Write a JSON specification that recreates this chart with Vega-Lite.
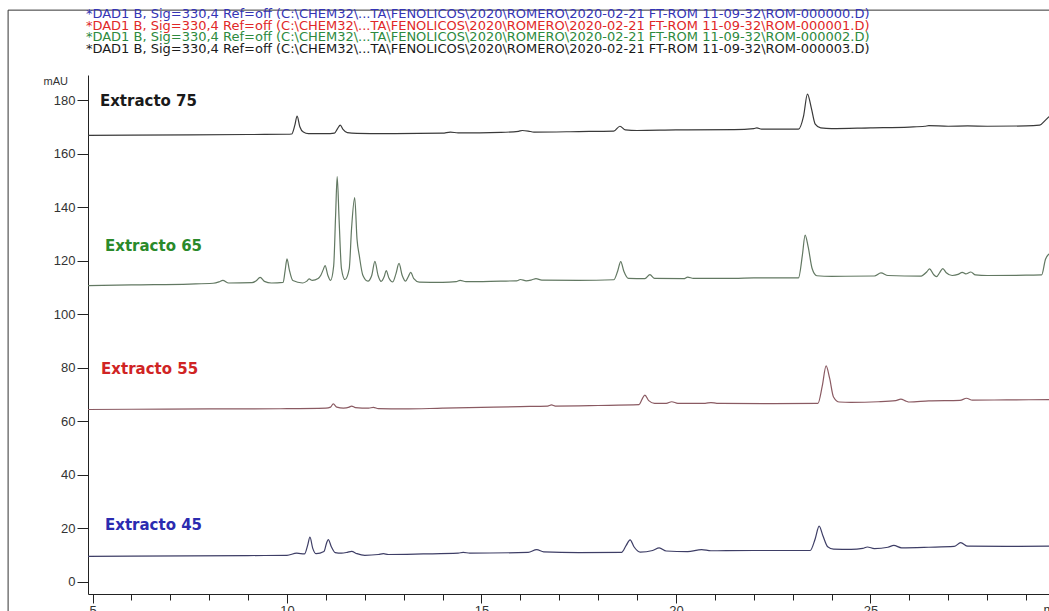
{
  "$schema": "https://vega.github.io/schema/vega-lite/v6.json",
  "width": 961,
  "height": 519,
  "autosize": {"type": "none"},
  "padding": {"left": 88, "top": 75, "right": 0, "bottom": 17},
  "background": "white",
  "config": {"view": {"stroke": null}, "font": "Liberation Sans"},
  "resolve": {"scale": {"color": "independent"}},
  "layer": [
    {
      "data": {"values": [
        {"t": 2.83, "v": -12, "v2": 213.6},
        {"t": 2.83, "t2": 29.6, "v": 213.6}
      ]},
      "mark": {"type": "rule", "color": "#333333", "strokeWidth": 1, "clip": false},
      "encoding": {
        "x": {"field": "t", "type": "quantitative", "scale": {"domain": [4.884, 29.59], "nice": false, "zero": false}},
        "x2": {"field": "t2"},
        "y": {"field": "v", "type": "quantitative", "scale": {"domain": [-4.67, 189.35], "nice": false, "zero": false}},
        "y2": {"field": "v2"}
      }
    },
    {
      "data": {"values": [
        {"s":"Extracto 75","t":4.884,"v":166.8},{"s":"Extracto 75","t":6.0,"v":166.9},{"s":"Extracto 75","t":7.5,"v":167.0},{"s":"Extracto 75","t":9.0,"v":167.1},{"s":"Extracto 75","t":10.0,"v":167.2},{"s":"Extracto 75","t":10.12,"v":167.3},{"s":"Extracto 75","t":10.2,"v":170.5},{"s":"Extracto 75","t":10.26,"v":174.0},{"s":"Extracto 75","t":10.33,"v":170.0},{"s":"Extracto 75","t":10.42,"v":168.0},{"s":"Extracto 75","t":10.55,"v":167.4},{"s":"Extracto 75","t":11.0,"v":167.4},{"s":"Extracto 75","t":11.22,"v":167.6},{"s":"Extracto 75","t":11.3,"v":169.3},{"s":"Extracto 75","t":11.37,"v":170.6},{"s":"Extracto 75","t":11.44,"v":169.0},{"s":"Extracto 75","t":11.55,"v":167.8},{"s":"Extracto 75","t":11.8,"v":167.5},{"s":"Extracto 75","t":12.5,"v":167.4},{"s":"Extracto 75","t":14.0,"v":167.6},{"s":"Extracto 75","t":14.2,"v":168.0},{"s":"Extracto 75","t":14.4,"v":167.7},{"s":"Extracto 75","t":15.5,"v":167.9},{"s":"Extracto 75","t":15.95,"v":168.3},{"s":"Extracto 75","t":16.05,"v":168.6},{"s":"Extracto 75","t":16.2,"v":168.4},{"s":"Extracto 75","t":16.35,"v":168.0},{"s":"Extracto 75","t":17.5,"v":168.2},{"s":"Extracto 75","t":18.4,"v":168.4},{"s":"Extracto 75","t":18.56,"v":170.2},{"s":"Extracto 75","t":18.7,"v":168.8},{"s":"Extracto 75","t":19.0,"v":168.6},{"s":"Extracto 75","t":20.0,"v":168.8},{"s":"Extracto 75","t":21.5,"v":168.9},{"s":"Extracto 75","t":22.0,"v":169.3},{"s":"Extracto 75","t":22.08,"v":169.6},{"s":"Extracto 75","t":22.2,"v":169.1},{"s":"Extracto 75","t":23.15,"v":169.1},{"s":"Extracto 75","t":23.28,"v":174.0},{"s":"Extracto 75","t":23.38,"v":182.2},{"s":"Extracto 75","t":23.48,"v":177.0},{"s":"Extracto 75","t":23.58,"v":171.0},{"s":"Extracto 75","t":23.72,"v":169.6},{"s":"Extracto 75","t":24.0,"v":169.3},{"s":"Extracto 75","t":25.0,"v":169.6},{"s":"Extracto 75","t":26.0,"v":169.9},{"s":"Extracto 75","t":26.4,"v":170.2},{"s":"Extracto 75","t":26.5,"v":170.4},{"s":"Extracto 75","t":27.0,"v":170.2},{"s":"Extracto 75","t":27.5,"v":170.3},{"s":"Extracto 75","t":28.0,"v":170.2},{"s":"Extracto 75","t":29.0,"v":170.3},{"s":"Extracto 75","t":29.35,"v":170.6},{"s":"Extracto 75","t":29.5,"v":172.5},{"s":"Extracto 75","t":29.59,"v":173.8},

        {"s":"Extracto 65","t":4.884,"v":110.6},{"s":"Extracto 65","t":6.0,"v":110.9},{"s":"Extracto 65","t":7.5,"v":111.2},{"s":"Extracto 65","t":8.1,"v":111.5},{"s":"Extracto 65","t":8.25,"v":112.0},{"s":"Extracto 65","t":8.35,"v":112.6},{"s":"Extracto 65","t":8.5,"v":111.6},{"s":"Extracto 65","t":9.1,"v":111.7},{"s":"Extracto 65","t":9.2,"v":112.3},{"s":"Extracto 65","t":9.31,"v":113.7},{"s":"Extracto 65","t":9.42,"v":112.2},{"s":"Extracto 65","t":9.6,"v":111.6},{"s":"Extracto 65","t":9.9,"v":111.8},{"s":"Extracto 65","t":9.95,"v":116.0},{"s":"Extracto 65","t":10.0,"v":120.6},{"s":"Extracto 65","t":10.06,"v":116.5},{"s":"Extracto 65","t":10.15,"v":112.5},{"s":"Extracto 65","t":10.4,"v":111.6},{"s":"Extracto 65","t":10.5,"v":112.2},{"s":"Extracto 65","t":10.57,"v":113.1},{"s":"Extracto 65","t":10.65,"v":112.6},{"s":"Extracto 65","t":10.8,"v":113.3},{"s":"Extracto 65","t":10.87,"v":114.5},{"s":"Extracto 65","t":10.93,"v":116.5},{"s":"Extracto 65","t":10.98,"v":118.1},{"s":"Extracto 65","t":11.05,"v":114.5},{"s":"Extracto 65","t":11.12,"v":112.6},{"s":"Extracto 65","t":11.2,"v":118.0},{"s":"Extracto 65","t":11.25,"v":137.0},{"s":"Extracto 65","t":11.29,"v":151.4},{"s":"Extracto 65","t":11.34,"v":135.0},{"s":"Extracto 65","t":11.4,"v":117.0},{"s":"Extracto 65","t":11.49,"v":112.9},{"s":"Extracto 65","t":11.6,"v":117.0},{"s":"Extracto 65","t":11.66,"v":132.0},{"s":"Extracto 65","t":11.74,"v":143.5},{"s":"Extracto 65","t":11.8,"v":128.0},{"s":"Extracto 65","t":11.86,"v":121.7},{"s":"Extracto 65","t":11.95,"v":114.5},{"s":"Extracto 65","t":12.08,"v":112.3},{"s":"Extracto 65","t":12.18,"v":114.5},{"s":"Extracto 65","t":12.26,"v":119.7},{"s":"Extracto 65","t":12.34,"v":114.5},{"s":"Extracto 65","t":12.42,"v":112.2},{"s":"Extracto 65","t":12.5,"v":114.0},{"s":"Extracto 65","t":12.55,"v":116.2},{"s":"Extracto 65","t":12.62,"v":113.5},{"s":"Extracto 65","t":12.72,"v":112.0},{"s":"Extracto 65","t":12.8,"v":115.0},{"s":"Extracto 65","t":12.88,"v":118.9},{"s":"Extracto 65","t":12.96,"v":114.5},{"s":"Extracto 65","t":13.05,"v":112.3},{"s":"Extracto 65","t":13.12,"v":114.0},{"s":"Extracto 65","t":13.18,"v":115.6},{"s":"Extracto 65","t":13.26,"v":113.2},{"s":"Extracto 65","t":13.4,"v":111.9},{"s":"Extracto 65","t":14.0,"v":111.8},{"s":"Extracto 65","t":14.35,"v":112.1},{"s":"Extracto 65","t":14.45,"v":112.6},{"s":"Extracto 65","t":14.6,"v":112.1},{"s":"Extracto 65","t":15.5,"v":112.3},{"s":"Extracto 65","t":15.9,"v":112.4},{"s":"Extracto 65","t":16.0,"v":112.9},{"s":"Extracto 65","t":16.15,"v":112.4},{"s":"Extracto 65","t":16.3,"v":112.8},{"s":"Extracto 65","t":16.4,"v":113.2},{"s":"Extracto 65","t":16.55,"v":112.7},{"s":"Extracto 65","t":17.5,"v":112.6},{"s":"Extracto 65","t":18.4,"v":112.8},{"s":"Extracto 65","t":18.5,"v":116.0},{"s":"Extracto 65","t":18.58,"v":119.6},{"s":"Extracto 65","t":18.66,"v":116.0},{"s":"Extracto 65","t":18.78,"v":113.3},{"s":"Extracto 65","t":19.2,"v":113.2},{"s":"Extracto 65","t":19.33,"v":114.7},{"s":"Extracto 65","t":19.45,"v":113.3},{"s":"Extracto 65","t":20.2,"v":113.2},{"s":"Extracto 65","t":20.3,"v":113.8},{"s":"Extracto 65","t":20.45,"v":113.3},{"s":"Extracto 65","t":21.5,"v":113.3},{"s":"Extracto 65","t":22.0,"v":113.5},{"s":"Extracto 65","t":23.15,"v":113.5},{"s":"Extracto 65","t":23.25,"v":122.0},{"s":"Extracto 65","t":23.32,"v":129.5},{"s":"Extracto 65","t":23.4,"v":125.0},{"s":"Extracto 65","t":23.5,"v":117.0},{"s":"Extracto 65","t":23.62,"v":114.3},{"s":"Extracto 65","t":24.0,"v":114.1},{"s":"Extracto 65","t":25.1,"v":114.2},{"s":"Extracto 65","t":25.27,"v":115.4},{"s":"Extracto 65","t":25.45,"v":114.4},{"s":"Extracto 65","t":26.3,"v":114.2},{"s":"Extracto 65","t":26.45,"v":115.8},{"s":"Extracto 65","t":26.52,"v":116.9},{"s":"Extracto 65","t":26.62,"v":114.8},{"s":"Extracto 65","t":26.7,"v":114.0},{"s":"Extracto 65","t":26.78,"v":115.5},{"s":"Extracto 65","t":26.86,"v":117.0},{"s":"Extracto 65","t":26.95,"v":115.4},{"s":"Extracto 65","t":27.1,"v":114.4},{"s":"Extracto 65","t":27.25,"v":114.8},{"s":"Extracto 65","t":27.36,"v":115.6},{"s":"Extracto 65","t":27.45,"v":115.0},{"s":"Extracto 65","t":27.58,"v":115.7},{"s":"Extracto 65","t":27.7,"v":114.6},{"s":"Extracto 65","t":28.0,"v":114.4},{"s":"Extracto 65","t":29.0,"v":114.5},{"s":"Extracto 65","t":29.4,"v":114.6},{"s":"Extracto 65","t":29.5,"v":120.5},{"s":"Extracto 65","t":29.59,"v":122.5},

        {"s":"Extracto 55","t":4.884,"v":64.3},{"s":"Extracto 55","t":6.0,"v":64.4},{"s":"Extracto 55","t":8.0,"v":64.5},{"s":"Extracto 55","t":10.0,"v":64.6},{"s":"Extracto 55","t":11.0,"v":64.8},{"s":"Extracto 55","t":11.12,"v":65.2},{"s":"Extracto 55","t":11.19,"v":66.4},{"s":"Extracto 55","t":11.28,"v":65.2},{"s":"Extracto 55","t":11.45,"v":64.8},{"s":"Extracto 55","t":11.6,"v":65.2},{"s":"Extracto 55","t":11.66,"v":65.6},{"s":"Extracto 55","t":11.76,"v":65.0},{"s":"Extracto 55","t":12.1,"v":64.8},{"s":"Extracto 55","t":12.22,"v":65.1},{"s":"Extracto 55","t":12.35,"v":64.6},{"s":"Extracto 55","t":13.0,"v":64.5},{"s":"Extracto 55","t":14.0,"v":64.8},{"s":"Extracto 55","t":15.0,"v":65.1},{"s":"Extracto 55","t":16.0,"v":65.4},{"s":"Extracto 55","t":16.7,"v":65.6},{"s":"Extracto 55","t":16.8,"v":66.0},{"s":"Extracto 55","t":16.9,"v":65.6},{"s":"Extracto 55","t":18.0,"v":65.8},{"s":"Extracto 55","t":19.05,"v":66.1},{"s":"Extracto 55","t":19.13,"v":68.2},{"s":"Extracto 55","t":19.2,"v":69.7},{"s":"Extracto 55","t":19.3,"v":67.6},{"s":"Extracto 55","t":19.45,"v":66.6},{"s":"Extracto 55","t":19.75,"v":66.6},{"s":"Extracto 55","t":19.89,"v":67.2},{"s":"Extracto 55","t":20.05,"v":66.6},{"s":"Extracto 55","t":20.75,"v":66.6},{"s":"Extracto 55","t":20.9,"v":66.9},{"s":"Extracto 55","t":21.05,"v":66.6},{"s":"Extracto 55","t":22.5,"v":66.5},{"s":"Extracto 55","t":23.65,"v":66.6},{"s":"Extracto 55","t":23.76,"v":73.0},{"s":"Extracto 55","t":23.86,"v":80.6},{"s":"Extracto 55","t":23.95,"v":76.0},{"s":"Extracto 55","t":24.05,"v":69.0},{"s":"Extracto 55","t":24.2,"v":67.1},{"s":"Extracto 55","t":24.5,"v":67.0},{"s":"Extracto 55","t":25.2,"v":67.2},{"s":"Extracto 55","t":25.65,"v":67.6},{"s":"Extracto 55","t":25.78,"v":68.2},{"s":"Extracto 55","t":25.92,"v":67.4},{"s":"Extracto 55","t":26.0,"v":67.1},{"s":"Extracto 55","t":26.5,"v":67.5},{"s":"Extracto 55","t":27.3,"v":67.7},{"s":"Extracto 55","t":27.47,"v":68.5},{"s":"Extracto 55","t":27.62,"v":67.8},{"s":"Extracto 55","t":28.5,"v":67.9},{"s":"Extracto 55","t":29.59,"v":68.0},

        {"s":"Extracto 45","t":4.884,"v":9.4},{"s":"Extracto 45","t":6.0,"v":9.5},{"s":"Extracto 45","t":7.5,"v":9.6},{"s":"Extracto 45","t":9.0,"v":9.7},{"s":"Extracto 45","t":10.0,"v":9.8},{"s":"Extracto 45","t":10.25,"v":10.6},{"s":"Extracto 45","t":10.45,"v":10.3},{"s":"Extracto 45","t":10.53,"v":13.5},{"s":"Extracto 45","t":10.59,"v":16.6},{"s":"Extracto 45","t":10.66,"v":12.5},{"s":"Extracto 45","t":10.75,"v":10.4},{"s":"Extracto 45","t":10.95,"v":11.2},{"s":"Extracto 45","t":11.02,"v":14.5},{"s":"Extracto 45","t":11.06,"v":15.7},{"s":"Extracto 45","t":11.14,"v":13.0},{"s":"Extracto 45","t":11.24,"v":10.8},{"s":"Extracto 45","t":11.4,"v":10.6},{"s":"Extracto 45","t":11.55,"v":10.9},{"s":"Extracto 45","t":11.66,"v":11.25},{"s":"Extracto 45","t":11.8,"v":10.4},{"s":"Extracto 45","t":12.0,"v":9.8},{"s":"Extracto 45","t":12.35,"v":10.1},{"s":"Extracto 45","t":12.48,"v":10.4},{"s":"Extracto 45","t":12.6,"v":10.1},{"s":"Extracto 45","t":13.5,"v":10.3},{"s":"Extracto 45","t":14.4,"v":10.6},{"s":"Extracto 45","t":14.53,"v":10.9},{"s":"Extracto 45","t":14.7,"v":10.6},{"s":"Extracto 45","t":16.2,"v":10.9},{"s":"Extracto 45","t":16.42,"v":11.9},{"s":"Extracto 45","t":16.6,"v":11.1},{"s":"Extracto 45","t":17.5,"v":10.8},{"s":"Extracto 45","t":18.6,"v":10.9},{"s":"Extracto 45","t":18.72,"v":13.5},{"s":"Extracto 45","t":18.82,"v":15.6},{"s":"Extracto 45","t":18.92,"v":13.0},{"s":"Extracto 45","t":19.08,"v":11.0},{"s":"Extracto 45","t":19.4,"v":11.6},{"s":"Extracto 45","t":19.57,"v":12.6},{"s":"Extracto 45","t":19.75,"v":11.4},{"s":"Extracto 45","t":20.3,"v":11.2},{"s":"Extracto 45","t":20.66,"v":11.9},{"s":"Extracto 45","t":20.9,"v":11.5},{"s":"Extracto 45","t":22.0,"v":11.6},{"s":"Extracto 45","t":23.45,"v":11.6},{"s":"Extracto 45","t":23.58,"v":16.0},{"s":"Extracto 45","t":23.68,"v":20.7},{"s":"Extracto 45","t":23.78,"v":17.0},{"s":"Extracto 45","t":23.9,"v":13.0},{"s":"Extracto 45","t":24.05,"v":12.1},{"s":"Extracto 45","t":24.5,"v":12.0},{"s":"Extracto 45","t":24.8,"v":12.4},{"s":"Extracto 45","t":24.92,"v":12.9},{"s":"Extracto 45","t":25.1,"v":12.3},{"s":"Extracto 45","t":25.45,"v":12.8},{"s":"Extracto 45","t":25.6,"v":13.5},{"s":"Extracto 45","t":25.8,"v":12.6},{"s":"Extracto 45","t":26.5,"v":12.8},{"s":"Extracto 45","t":27.15,"v":13.1},{"s":"Extracto 45","t":27.32,"v":14.5},{"s":"Extracto 45","t":27.5,"v":13.2},{"s":"Extracto 45","t":28.5,"v":13.1},{"s":"Extracto 45","t":29.59,"v":13.2}
      ]},
      "mark": {"type": "line", "strokeWidth": 1.2, "interpolate": "monotone", "clip": true},
      "encoding": {
        "x": {
          "field": "t", "type": "quantitative",
          "scale": {"domain": [4.884, 29.59], "nice": false, "zero": false},
          "axis": {
            "values": [5,6,7,8,9,10,11,12,13,14,15,16,17,18,19,20,21,22,23,24,25,26,27,28,29],
            "labelExpr": "datum.value % 5 === 0 ? datum.label : ''",
            "tickSize": {"condition": {"test": "datum.value % 5 === 0", "value": 9}, "value": 6},
            "grid": false, "domainColor": "#222222", "tickColor": "#222222",
            "labelColor": "#333333", "labelFontSize": 13, "labelPadding": 1,
            "labelFlush": false, "labelOverlap": false,
            "title": "min", "titleX": 955, "titleY": 9, "titleAlign": "left", "titleBaseline": "top",
            "titleFontWeight": "normal", "titleFontSize": 13, "titleColor": "#333333"
          }
        },
        "y": {
          "field": "v", "type": "quantitative",
          "scale": {"domain": [-4.67, 189.35], "nice": false, "zero": false},
          "axis": {
            "values": [0,5,10,15,20,25,30,35,40,45,50,55,60,65,70,75,80,85,90,95,100,105,110,115,120,125,130,135,140,145,150,155,160,165,170,175,180,185],
            "labelExpr": "datum.value % 20 === 0 ? datum.label : ''",
            "tickSize": {"condition": {"test": "datum.value % 20 === 0", "value": 11}, "value": 5},
            "grid": false, "domainColor": "#222222", "tickColor": "#222222",
            "labelColor": "#333333", "labelFontSize": 13, "labelPadding": 2,
            "labelOverlap": false,
            "title": "mAU", "titleAngle": 0, "titleX": -45, "titleY": 6, "titleAlign": "left",
            "titleBaseline": "middle", "titleFontWeight": "normal", "titleFontSize": 11, "titleColor": "#333333"
          }
        },
        "color": {
          "field": "s", "type": "nominal", "legend": null,
          "scale": {"domain": ["Extracto 45", "Extracto 55", "Extracto 65", "Extracto 75"],
                    "range": ["#3e3e66", "#8a5a62", "#627862", "#3a3a3a"]}
        }
      }
    },
    {
      "data": {"values": [
        {"s": "Extracto 75", "t": 5.19, "v": 179.6},
        {"s": "Extracto 65", "t": 5.32, "v": 125.4},
        {"s": "Extracto 55", "t": 5.22, "v": 79.4},
        {"s": "Extracto 45", "t": 5.32, "v": 21.1}
      ]},
      "mark": {"type": "text", "align": "left", "baseline": "middle", "fontSize": 15, "fontWeight": "bold", "font": "DejaVu Sans"},
      "encoding": {
        "x": {"field": "t", "type": "quantitative"},
        "y": {"field": "v", "type": "quantitative"},
        "text": {"field": "s"},
        "color": {
          "field": "s", "type": "nominal", "legend": null,
          "scale": {"domain": ["Extracto 45", "Extracto 55", "Extracto 65", "Extracto 75"],
                    "range": ["#2b2bb0", "#d02424", "#2a8a2a", "#1a1a1a"]}
        }
      }
    },
    {
      "data": {"values": [
        {"s": "Extracto 45", "t": 4.83, "v": 212.1, "line": "*DAD1 B, Sig=330,4 Ref=off (C:\\CHEM32\\...TA\\FENOLICOS\\2020\\ROMERO\\2020-02-21 FT-ROM 11-09-32\\ROM-000000.D)"},
        {"s": "Extracto 55", "t": 4.83, "v": 207.8, "line": "*DAD1 B, Sig=330,4 Ref=off (C:\\CHEM32\\...TA\\FENOLICOS\\2020\\ROMERO\\2020-02-21 FT-ROM 11-09-32\\ROM-000001.D)"},
        {"s": "Extracto 65", "t": 4.83, "v": 203.5, "line": "*DAD1 B, Sig=330,4 Ref=off (C:\\CHEM32\\...TA\\FENOLICOS\\2020\\ROMERO\\2020-02-21 FT-ROM 11-09-32\\ROM-000002.D)"},
        {"s": "Extracto 75", "t": 4.83, "v": 199.2, "line": "*DAD1 B, Sig=330,4 Ref=off (C:\\CHEM32\\...TA\\FENOLICOS\\2020\\ROMERO\\2020-02-21 FT-ROM 11-09-32\\ROM-000003.D)"}
      ]},
      "mark": {"type": "text", "align": "left", "baseline": "middle", "fontSize": 13, "font": "DejaVu Sans", "clip": false},
      "encoding": {
        "x": {"field": "t", "type": "quantitative"},
        "y": {"field": "v", "type": "quantitative"},
        "text": {"field": "line"},
        "color": {
          "field": "s", "type": "nominal", "legend": null,
          "scale": {"domain": ["Extracto 45", "Extracto 55", "Extracto 65", "Extracto 75"],
                    "range": ["#3535b5", "#e02828", "#2d8a3d", "#1a1a1a"]}
        }
      }
    }
  ]
}
